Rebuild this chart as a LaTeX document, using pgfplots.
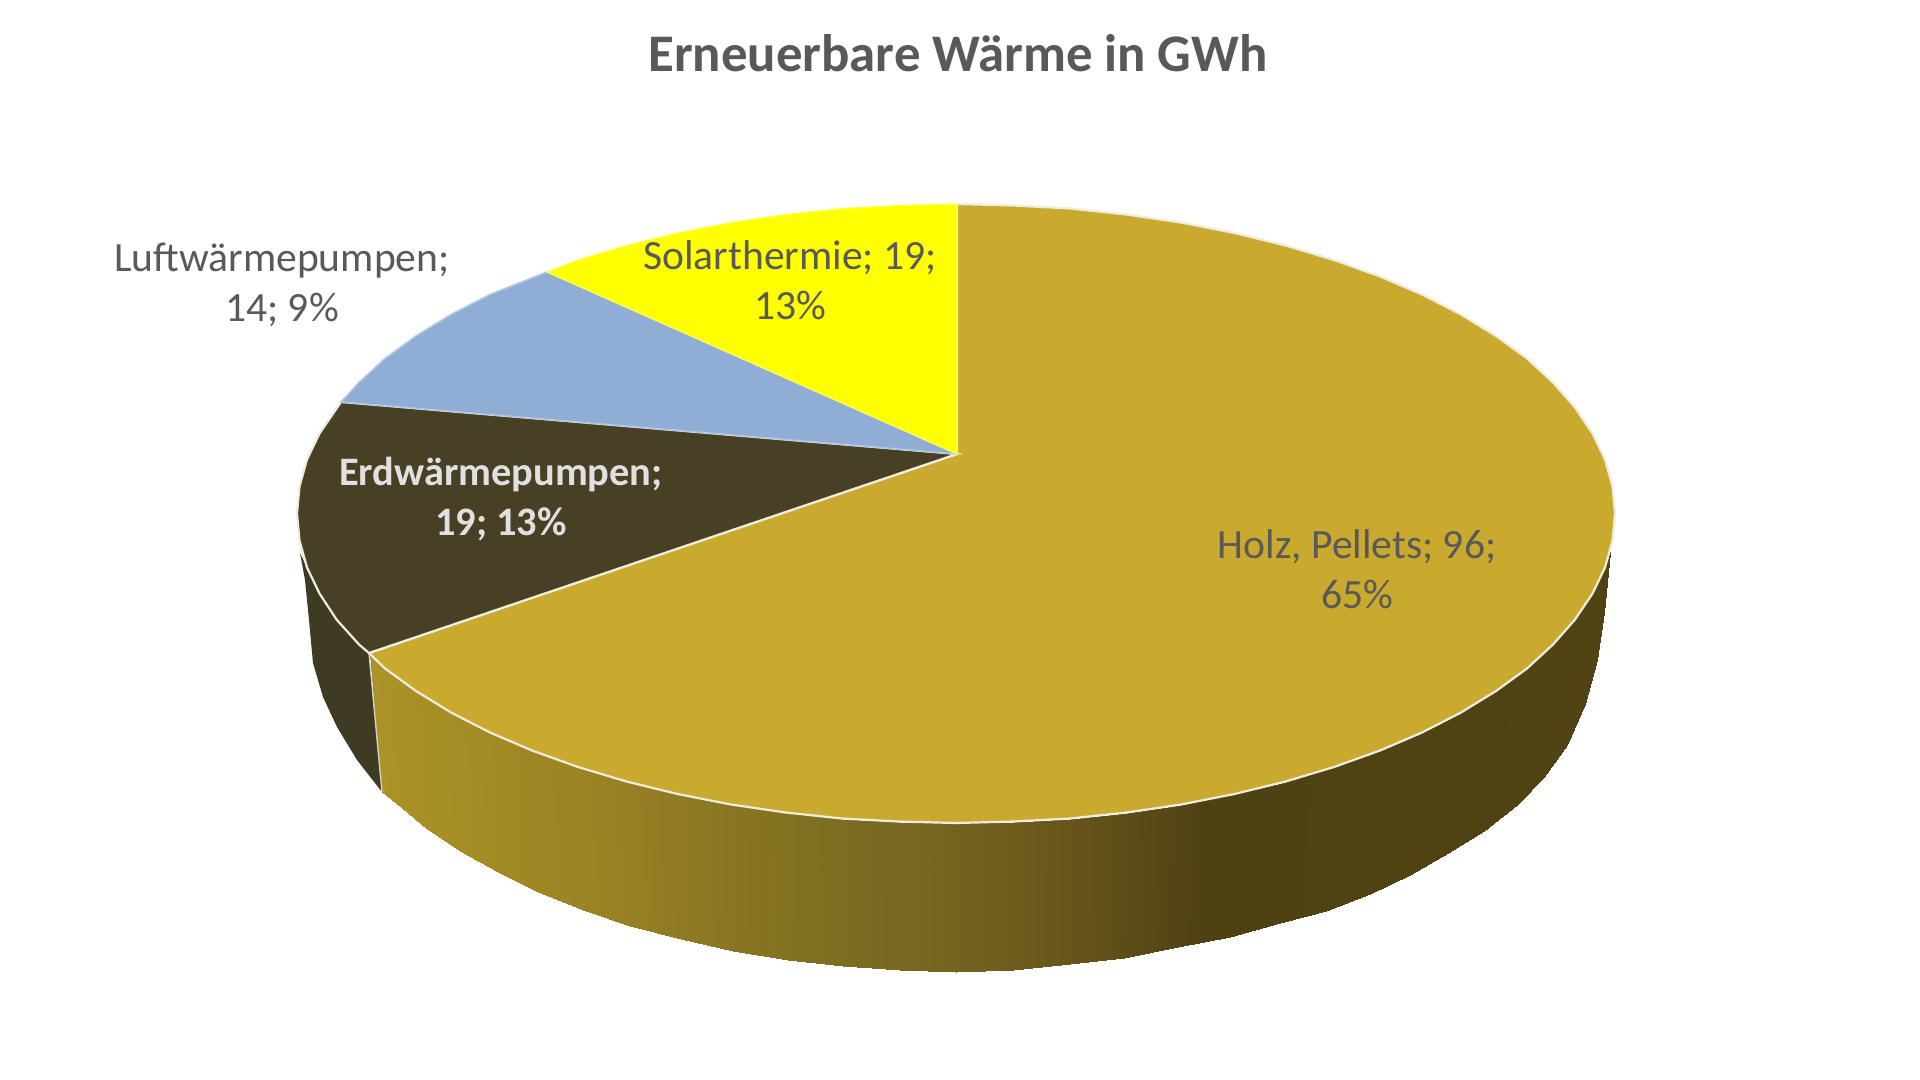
\documentclass[border=0pt]{standalone}
\usepackage{fontspec}
\setmainfont{Carlito}
\usepackage{pgfplots}
\usepgfplotslibrary{patchplots}
\pgfplotsset{compat=1.18}
\definecolor{gold}{RGB}{201,170,46}
\definecolor{darkslice}{RGB}{72,64,36}
\definecolor{darkwall}{RGB}{63,58,34}
\definecolor{blueslice}{RGB}{143,173,213}
\definecolor{solar}{RGB}{255,255,0}
\definecolor{txt}{RGB}{89,89,89}
\definecolor{rim}{RGB}{238,236,222}

% side wall of the big slice: upper edge, then lower edge, c gives the shade
\pgfplotstableread{
x y c
370 654 370
385 668.5 385
416 691 416
451 712.5 451
490 732.5 490
532 750.5 532
578 767 578
626.5 781.5 626.5
677.5 794 677.5
731 804.5 731
785.5 812.5 785.5
842 818.5 842
898.5 821.5 898.5
956 823 956
1013.5 821.5 1013.5
1070 818.5 1070
1126.5 812.5 1126.5
1181 804.5 1181
1234.5 794 1234.5
1285.5 781.5 1285.5
1334 767 1334
1380 750.5 1380
1422 732.5 1422
1461 712.5 1461
1496 691 1496
1527 668.5 1527
1553 644.5 1553
1575 619.5 1575
1592.5 593.5 1592.5
1605 567.5 1605
1608 560 1608
1610 552 1610
382 792 370
396 803 385
427 828.5 416
460 851 451
498 872 490
538 892 532
583 910 578
630 926 626.5
681 939 677.5
733 951 731
788 960 785.5
843 966 842
899.5 970 898.5
956 972 956
1013 970 1013.5
1070 964 1070
1124 957.5 1126.5
1178 947 1181
1230 937 1234.5
1280 923 1285.5
1326 910.5 1334
1370 894 1380
1410 875 1422
1448 853 1461
1484 831 1496
1517 805 1527
1544 777 1553
1567 745 1575
1585 704 1592.5
1597 660 1605
1604 612 1608
1610 553 1610
}\wallgold

\begin{document}
\begin{tikzpicture}
\begin{axis}[
    scale only axis, width=960pt, height=540pt,
    xmin=0, xmax=1920, ymin=0, ymax=1080,
    y dir=reverse, hide axis,
    colormap={wall}{rgb255(370pt)=(171,147,39) rgb255(600pt)=(154,129,36) rgb255(800pt)=(128,112,33)
        rgb255(950pt)=(116,100,32) rgb255(1050pt)=(106,87,27) rgb255(1210pt)=(78,65,18) rgb255(1610pt)=(81,68,20)},
    point meta min=370, point meta max=1610,
]
\path[fill=white] (axis cs:0,0) rectangle (axis cs:1920,1080);

% walls
\addplot[fill=darkwall, draw=none] coordinates {(300,553) (305,580) (309,620) (313,663) (323,697) (337,727) (357,760) (382,792) (369,653) (336.5,619.5) (307,567.5)} --cycle;
\addplot[surf, shader=interp, mesh/cols=32, mesh/ordering=x varies, point meta=\thisrow{c}] table[x=x, y=y] {\wallgold};
\addplot[draw=rim!75!gray, line width=0.7pt] coordinates {(369,653) (382,792)};

% top of the pie
\addplot[fill=gold, draw=rim, line width=1.1pt] coordinates {(957,454) (957,204) (1013.5,205.5) (1070,208.5) (1126.5,214.5) (1181,222.5) (1234.5,233) (1285.5,245.5) (1334,260) (1380,276.5) (1422,294.5) (1461,314.5) (1496,336) (1527,358.5) (1553,382.5) (1575,407.5) (1592.5,433.5) (1605,459.5) (1612.5,486.5) (1615,513.5) (1612.5,540.5) (1605,567.5) (1592.5,593.5) (1575,619.5) (1553,644.5) (1527,668.5) (1496,691) (1461,712.5) (1422,732.5) (1380,750.5) (1334,767) (1285.5,781.5) (1234.5,794) (1181,804.5) (1126.5,812.5) (1070,818.5) (1013.5,821.5) (956,823) (898.5,821.5) (842,818.5) (785.5,812.5) (731,804.5) (677.5,794) (626.5,781.5) (578,767) (532,750.5) (490,732.5) (451,712.5) (416,691) (385,668.5) (369,653)} --cycle;
\addplot[fill=darkslice, draw=rim, line width=1.1pt] coordinates {(957,454) (369,653) (359,644.5) (336.5,619.5) (319.5,593.5) (307,567.5) (299.5,540.5) (297,513.5) (299.5,486.5) (307,459.5) (319.5,433.5) (341,402)} --cycle;
\addplot[fill=blueslice, draw=blueslice!70!white, line width=0.8pt] coordinates {(957,454) (341,402) (359,382.5) (385,358.5) (416,336) (451,314.5) (490,294.5) (547,272)} --cycle;
\addplot[fill=solar, draw=solar!70!white, line width=0.6pt] coordinates {(957,454) (547,272) (578,260) (626.5,245.5) (677.5,233) (731,222.5) (785.5,214.5) (842,208.5) (898.5,205.5) (957,204)} --cycle;

% labels
\node[font=\fontsize{26.4}{30}\selectfont\bfseries, text=txt] at (axis cs:958,53) {Erneuerbare Wärme in GWh};
\node[font=\fontsize{20.8}{25}\selectfont, text=txt, align=center] at (axis cs:282,285) {Luftwärmepumpen;\\14; 9\%};
\node[font=\fontsize{20.8}{25}\selectfont, text=txt, align=center] at (axis cs:790,280) {Solarthermie; 19;\\13\%};
\node[font=\fontsize{20.2}{25}\selectfont\bfseries, text=white!88!black, align=center] at (axis cs:501,499) {Erdwärmepumpen;\\19; 13\%};
\node[font=\fontsize{20.8}{25}\selectfont, text=txt, align=center] at (axis cs:1357,569) {Holz, Pellets; 96;\\65\%};
\end{axis}
\end{tikzpicture}
\end{document}
